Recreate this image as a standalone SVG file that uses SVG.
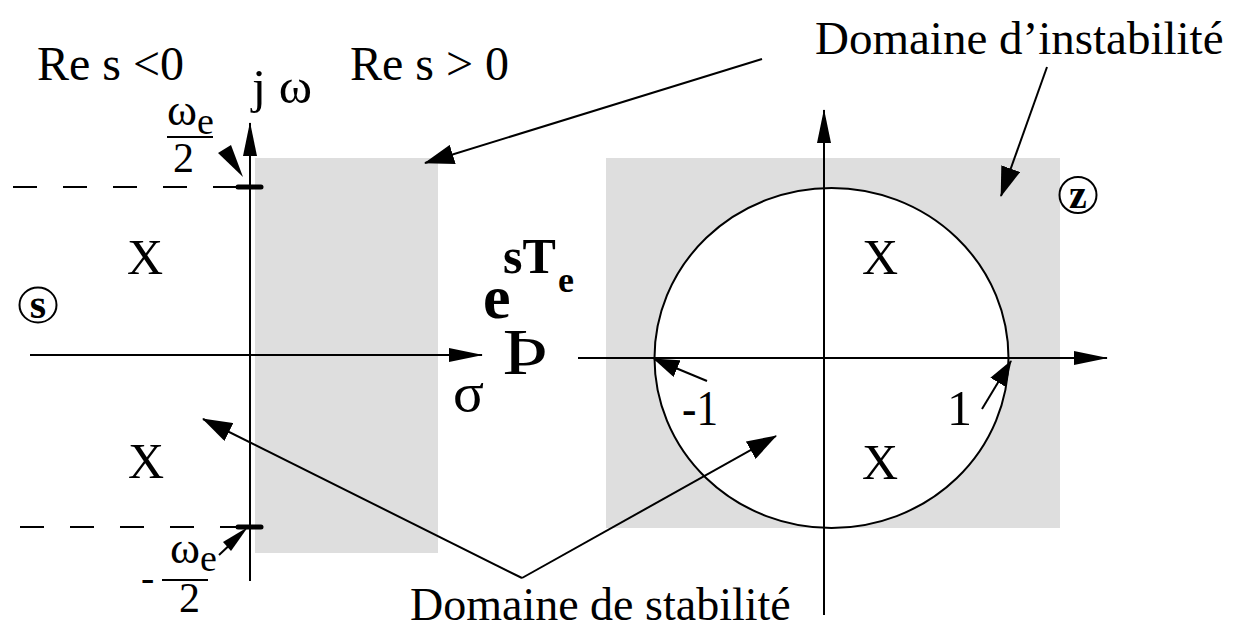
<svg xmlns="http://www.w3.org/2000/svg" width="1234" height="630" viewBox="0 0 1234 630">
<style>
.t{font-family:"Liberation Serif","Times New Roman",serif;fill:#000}
.b{font-weight:bold}
.ln{stroke:#000;stroke-width:2;fill:none}
.gray{fill:#dedede}
.dash{stroke:#000;stroke-width:2;stroke-dasharray:24 26;fill:none}
.tick{stroke:#000;stroke-width:5;stroke-linecap:round}
</style>
<defs>
<marker id="ah" markerUnits="userSpaceOnUse" markerWidth="30" markerHeight="20" refX="29" refY="10" orient="auto"><path d="M0,0 L30,10 L0,20 z" fill="#000"/></marker>
<marker id="ax" markerUnits="userSpaceOnUse" markerWidth="34" markerHeight="16" refX="33" refY="8" orient="auto"><path d="M0,1 L34,8 L0,15 z" fill="#000"/></marker>
<marker id="sm" markerUnits="userSpaceOnUse" markerWidth="26" markerHeight="18" refX="25" refY="9" orient="auto"><path d="M0,0 L26,9 L0,18 z" fill="#000"/></marker>
</defs>
<g id="regions">
<rect class="gray" x="255" y="158" width="183" height="395"/>
<rect class="gray" x="606" y="158" width="454" height="370"/>
<ellipse cx="831.5" cy="358" rx="177" ry="170" fill="#fff" stroke="#000" stroke-width="2"/>
</g>
<g id="connectors">
<line class="ln" x1="30" y1="355" x2="482" y2="355" marker-end="url(#ax)"/>
<line class="ln" x1="250" y1="581" x2="250" y2="123" marker-end="url(#ax)"/>
<line class="ln" x1="578" y1="358" x2="1107" y2="358" marker-end="url(#ax)"/>
<line class="ln" x1="824" y1="615" x2="824" y2="110" marker-end="url(#ax)"/>
<line class="dash" x1="13" y1="187" x2="250" y2="187"/>
<line class="dash" x1="20" y1="527" x2="250" y2="527"/>
<line class="tick" x1="238" y1="187" x2="261" y2="187"/>
<line class="tick" x1="238" y1="527" x2="261" y2="527"/>
<polygon points="218,153 231,145 243,177" fill="#000"/>
<line class="ln" x1="219" y1="555" x2="236" y2="539"/>
<polygon points="223,542 231,551 248,527" fill="#000"/>
<line class="ln" x1="762" y1="59" x2="425" y2="163" marker-end="url(#ah)"/>
<line class="ln" x1="1047" y1="67" x2="1001" y2="196" marker-end="url(#ah)"/>
<line class="ln" x1="522" y1="578" x2="203" y2="419" marker-end="url(#ah)"/>
<line class="ln" x1="522" y1="578" x2="776" y2="436" marker-end="url(#ah)"/>
<line class="ln" x1="707" y1="381" x2="654" y2="359" marker-end="url(#sm)"/>
<line class="ln" x1="982" y1="409" x2="1011" y2="361" marker-end="url(#sm)"/>
</g>
<g id="labels">
<text class="t" x="37" y="80" font-size="48">Re s &lt;0</text>
<text class="t" x="350" y="80" font-size="48">Re s &gt; 0</text>
<text class="t" x="252" y="103" font-size="48" textLength="60" lengthAdjust="spacingAndGlyphs">j ω</text>
<text class="t" x="815" y="54" font-size="47">Domaine d’instabilité</text>
<text class="t" x="410" y="620" font-size="46">Domaine de stabilité</text>
<text class="t" x="167" y="125" font-size="44" textLength="30" lengthAdjust="spacingAndGlyphs">ω</text>
<text class="t" x="197" y="134" font-size="38">e</text>
<line class="ln" x1="167" y1="137" x2="213" y2="137"/>
<text class="t" x="173" y="172" font-size="42">2</text>
<text class="t" x="170" y="563" font-size="44" textLength="30" lengthAdjust="spacingAndGlyphs">ω</text>
<text class="t" x="200" y="571" font-size="38">e</text>
<text class="t" x="141" y="591" font-size="40">-</text>
<line class="ln" x1="162" y1="580" x2="208" y2="580"/>
<text class="t" x="179" y="612" font-size="42">2</text>
<text class="t" x="127" y="274" font-size="50">X</text>
<text class="t" x="128" y="478" font-size="50">X</text>
<text class="t" x="862" y="274" font-size="50">X</text>
<text class="t" x="862" y="479" font-size="50">X</text>
<text class="t" x="682" y="425" font-size="50" textLength="36" lengthAdjust="spacingAndGlyphs">-1</text>
<text class="t" x="947" y="425" font-size="50">1</text>
<text class="t" x="453" y="411" font-size="54" textLength="31" lengthAdjust="spacingAndGlyphs">σ</text>
<text class="t" x="502" y="374" font-size="66" textLength="46" lengthAdjust="spacingAndGlyphs">Þ</text>
<text class="t b" x="483" y="318" font-size="62">e</text>
<text class="t b" x="503" y="273" font-size="50">sT</text>
<text class="t b" x="558" y="292" font-size="36">e</text>
</g>
<g id="node-s">
<ellipse cx="38" cy="305" rx="18.5" ry="17.5" fill="none" stroke="#000" stroke-width="2"/>
<text class="t b" x="38" y="318" font-size="42" text-anchor="middle">s</text>
</g>
<g id="node-z">
<ellipse cx="1078" cy="195" rx="18.5" ry="18" fill="none" stroke="#000" stroke-width="2"/>
<text class="t b" x="1078" y="208" font-size="40" text-anchor="middle">z</text>
</g>
</svg>
